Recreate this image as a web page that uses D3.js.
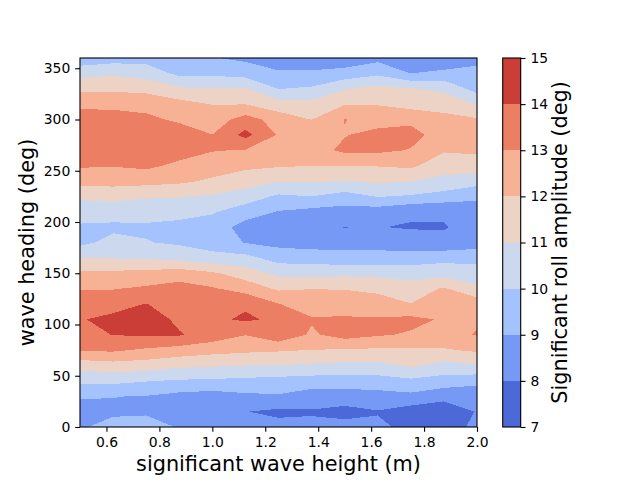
<!DOCTYPE html>
<html>
<head>
<meta charset="utf-8">
<script src="https://cdn.jsdelivr.net/npm/d3@7"></script>
<style>
    body { margin: 0; background: #fff; }
    text { font-family: "DejaVu Sans", sans-serif; fill: #000; }
</style>
</head>
<body>
<div id="chart"></div>
<script>
let hs = [0.5, 0.625, 0.75, 0.875, 1.0, 1.125, 1.25, 1.375, 1.5, 1.625, 1.75, 1.875, 2.0]
let headings = [0, 15, 30, 45, 60, 75, 90, 105, 120, 135, 150, 165, 180,
    195, 210, 225, 240, 255, 270, 285, 300, 315, 330, 345, 360]
let levels = [7, 8, 9, 10, 11, 12, 13, 14, 15]

// one row per heading, one value per wave height
let roll = [
    [8.9, 9.3, 9.3, 8.95, 8.6, 8.5, 8.3, 8.2, 8.3, 8.15, 7.8, 7.8, 8.1],
    [8.6, 8.85, 8.9, 8.65, 8.45, 8.02, 7.8, 7.92, 7.7, 7.95, 7.5, 7.4, 8.05],
    [9.1, 9.02, 8.97, 8.7, 8.55, 8.8, 8.9, 8.5, 8.5, 8.6, 8.75, 8.3, 8.2],
    [10.2, 10.25, 10.05, 9.9, 9.85, 9.75, 9.65, 9.55, 9.55, 9.6, 9.8, 9.6, 9.35],
    [11.4, 11.6, 11.5, 11.2, 11.1, 11.0, 10.98, 10.85, 10.75, 10.7, 11.15, 10.65, 10.9],
    [13.1, 13.15, 12.85, 12.6, 12.35, 12.2, 12.1, 11.98, 11.9, 11.85, 11.85, 11.9, 12.15],
    [13.6, 14.03, 14.1, 14.08, 13.57, 13.02, 13.75, 12.85, 13.4, 13.1, 12.9, 12.7, 13.05],
    [13.95, 14.2, 14.5, 13.8, 13.8, 14.15, 13.8, 13.1, 13.1, 13.1, 13.25, 12.9, 12.9],
    [13.6, 13.7, 14.03, 13.5, 13.6, 13.85, 13.03, 12.5, 12.6, 12.4, 12.02, 12.3, 12.6],
    [12.95, 12.95, 13.15, 13.4, 13.1, 12.6, 11.85, 11.98, 11.95, 11.8, 11.5, 12.1, 11.2],
    [12.2, 12.2, 12.3, 12.5, 12.15, 11.5, 10.75, 10.7, 10.75, 10.7, 10.55, 10.6, 10.4],
    [10.95, 10.95, 10.9, 10.7, 10.3, 10.3, 9.6, 9.5, 9.4, 9.4, 9.5, 9.7, 9.7],
    [9.75, 10.3, 10.05, 9.85, 9.6, 8.95, 8.7, 8.6, 8.6, 8.6, 8.3, 8.2, 8.5],
    [9.85, 9.8, 9.85, 9.7, 9.55, 8.6, 8.5, 8.05, 7.98, 8.02, 7.95, 7.95, 8.3],
    [10.5, 10.45, 10.4, 10.35, 10.1, 9.5, 8.95, 8.7, 8.6, 8.5, 8.1, 8.1, 8.5],
    [11.15, 11.3, 11.1, 11.05, 10.9, 10.5, 9.85, 10.0, 9.6, 10.05, 9.9, 9.6, 9.2],
    [12.38, 12.4, 12.35, 12.2, 11.85, 11.5, 11.05, 11.1, 10.98, 11.15, 11.03, 10.75, 10.4],
    [13.1, 13.05, 13.2, 12.8, 12.5, 12.2, 12.1, 12.02, 12.0, 12.05, 12.2, 11.4, 11.6],
    [13.5, 13.5, 13.6, 13.4, 13.05, 12.95, 12.7, 12.6, 13.2, 13.2, 12.95, 12.1, 12.15],
    [13.55, 13.6, 13.55, 13.5, 13.01, 14.3, 12.9, 12.8, 12.95, 13.3, 13.3, 12.6, 12.75],
    [13.3, 13.35, 13.2, 12.85, 12.5, 13.4, 12.6, 11.98, 13.03, 12.6, 12.8, 12.3, 12.1],
    [12.85, 12.8, 12.7, 12.35, 11.97, 11.98, 11.4, 11.3, 11.95, 11.95, 11.6, 11.6, 10.95],
    [11.75, 11.8, 11.7, 11.15, 11.02, 11.1, 9.98, 10.15, 10.95, 11.3, 11.08, 10.8, 9.6],
    [10.7, 10.85, 10.6, 9.75, 9.8, 9.6, 9.1, 9.1, 9.4, 9.8, 9.0, 9.3, 9.4],
    [9.3, 9.55, 9.6, 9.3, 9.05, 8.8, 8.6, 8.6, 8.3, 8.7, 7.98, 8.02, 8.6]
]

let xTicks = [0.6, 0.8, 1.0, 1.2, 1.4, 1.6, 1.8, 2.0]
let yTicks = [0, 50, 100, 150, 200, 250, 300, 350]

// coolwarm sampled at the band middles
let colors = ["#4d68d7", "#7799f6", "#a3c2fe", "#cbd8ee",
    "#ecd3c5", "#f7b194", "#ec7f63", "#cb3e38"]

let margin = {top: 58, left: 80}
let width = 397
let height = 369
let tick = 4.86

let svg = d3.select("#chart")
    .append("svg")
    .attr("width", 640)
    .attr("height", 480)

let g = svg.append("g")
    .attr("transform", "translate(" + margin.left + "," + margin.top + ")")

let x = d3.scaleLinear()
    .domain([hs[0], hs[hs.length - 1]])
    .range([0, width])
let y = d3.scaleLinear()
    .domain([0, 360])
    .range([height, 0])

// d3.contours puts grid value i at coordinate i + 0.5
let gx = d3.scaleLinear()
    .domain([0.5, hs.length - 0.5])
    .range([x(hs[0]), x(hs[hs.length - 1])])
let gy = d3.scaleLinear()
    .domain([0.5, headings.length - 0.5])
    .range([y(headings[0]), y(headings[headings.length - 1])])

let path = d3.geoPath(d3.geoTransform({
    point: function (px, py) {
        this.stream.point(gx(px), gy(py))
    }
}))

let contours = d3.contours()
    .size([hs.length, headings.length])
    .thresholds(levels.slice(0, -1))(roll.flat())

g.append("clipPath")
    .attr("id", "plot-clip")
    .append("rect")
    .attr("width", width)
    .attr("height", height)

g.append("g")
    .attr("clip-path", "url(#plot-clip)")
    .selectAll("path")
    .data(contours)
    .enter()
    .append("path")
    .attr("d", path)
    .attr("fill", function (d, i) {
        return colors[i]
    })
    .attr("shape-rendering", "crispEdges")

// axes
let xAxis = g.append("g")
    .attr("transform", "translate(0," + height + ")")
    .call(d3.axisBottom(x).tickValues(xTicks).tickFormat(d3.format(".1f"))
        .tickSize(tick).tickPadding(tick))
let yAxis = g.append("g")
    .call(d3.axisLeft(y).tickValues(yTicks).tickSize(tick).tickPadding(tick))

;[xAxis, yAxis].forEach(function (a) {
    a.select(".domain").remove()
    a.selectAll("line").attr("stroke", "#000").attr("stroke-width", 1.1)
    a.selectAll("text").style("font-size", "13.9px").style("font-family", "DejaVu Sans")
})

g.append("rect")
    .attr("width", width)
    .attr("height", height)
    .attr("fill", "none")
    .attr("stroke", "#000")
    .attr("stroke-width", 1.1)

svg.append("text")
    .attr("x", margin.left + width / 2)
    .attr("y", 471)
    .attr("text-anchor", "middle")
    .style("font-size", "20.8px")
    .text("significant wave height (m)")

svg.append("text")
    .attr("transform", "translate(34," + (margin.top + height / 2) + ")rotate(-90)")
    .attr("text-anchor", "middle")
    .style("font-size", "20.8px")
    .text("wave heading (deg)")

// colorbar
let cb = svg.append("g")
    .attr("transform", "translate(502.7," + margin.top + ")")
let c = d3.scaleLinear()
    .domain([levels[0], levels[levels.length - 1]])
    .range([height, 0])

cb.selectAll("rect.band")
    .data(levels.slice(0, -1))
    .enter()
    .append("rect")
    .attr("class", "band")
    .attr("x", 0)
    .attr("width", 18)
    .attr("y", function (d, i) {
        return c(levels[i + 1])
    })
    .attr("height", function (d, i) {
        return c(d) - c(levels[i + 1])
    })
    .attr("fill", function (d, i) {
        return colors[i]
    })
    .attr("shape-rendering", "crispEdges")

let cbAxis = cb.append("g")
    .attr("transform", "translate(18,0)")
    .call(d3.axisRight(c).tickValues(levels).tickSize(tick).tickPadding(tick))
cbAxis.select(".domain").remove()
cbAxis.selectAll("line").attr("stroke", "#000").attr("stroke-width", 1.1)
cbAxis.selectAll("text").style("font-size", "13.9px").style("font-family", "DejaVu Sans")

cb.append("rect")
    .attr("width", 18)
    .attr("height", height)
    .attr("fill", "none")
    .attr("stroke", "#000")
    .attr("stroke-width", 1.1)

svg.append("text")
    .attr("transform", "translate(567," + (margin.top + height / 2) + ")rotate(-90)")
    .attr("text-anchor", "middle")
    .style("font-size", "20.8px")
    .text("Significant roll amplitude (deg)")
</script>
</body>
</html>
